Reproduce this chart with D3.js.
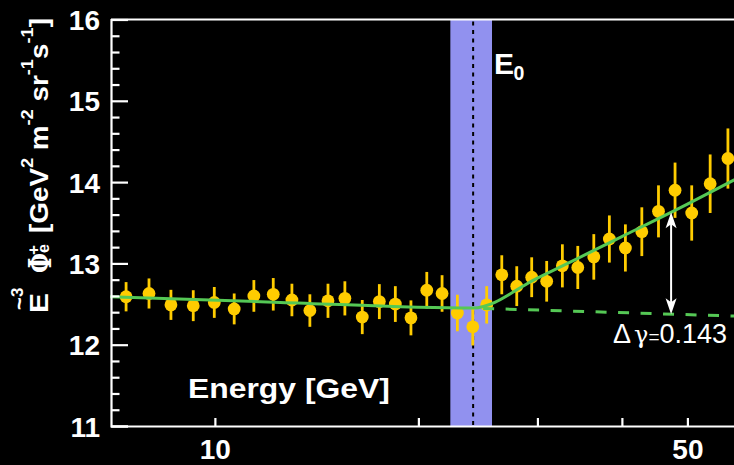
<!DOCTYPE html>
<html>
<head>
<meta charset="utf-8">
<script src="https://cdn.jsdelivr.net/npm/d3@7"></script>
<style>
  html, body { margin: 0; padding: 0; background: #000; }
  svg { display: block; }
</style>
</head>
<body>
<svg id="chart" width="734" height="465"></svg>
<script>
// Positron flux (E^3 weighted) per energy bin
const energy = [7.39, 7.99, 8.61, 9.29, 9.98, 10.68, 11.42, 12.20, 13.00, 13.82, 14.70, 15.57,
  16.52, 17.51, 18.49, 19.50, 20.58, 21.68, 22.84, 24.07, 25.24, 26.57, 27.96, 29.42,
  30.96, 32.66, 34.42, 36.35, 38.33, 40.48, 42.81, 45.31, 47.94, 50.74, 54.03, 57.40];
const flux = [12.59, 12.63, 12.49, 12.48, 12.52, 12.44, 12.60, 12.62, 12.55, 12.42, 12.54, 12.57,
  12.34, 12.53, 12.50, 12.33, 12.67, 12.63, 12.39, 12.22, 12.49, 12.86, 12.72, 12.83,
  12.78, 12.97, 12.95, 13.08, 13.30, 13.19, 13.39, 13.64, 13.90, 13.62, 13.98, 14.29];
const fluxErr = [0.18, 0.185, 0.185, 0.19, 0.19, 0.19, 0.195, 0.20, 0.20, 0.20, 0.21, 0.21,
  0.21, 0.215, 0.22, 0.215, 0.225, 0.225, 0.225, 0.23, 0.23, 0.24, 0.245, 0.245,
  0.25, 0.265, 0.265, 0.28, 0.29, 0.29, 0.30, 0.32, 0.34, 0.34, 0.36, 0.37];

// Broken power-law fit and its extrapolation without the break
const fitSolidE = [7.0, 12.5, 24.1, 30, 40, 50, 60];
const fitSolidY = [12.59, 12.52, 12.45, 12.82, 13.33, 13.73, 14.07];
const fitDashedE = [24.1, 60];
const fitDashedY = [12.45, 12.35];

// Break energy and its uncertainty band
const breakE = 24.1;
const breakBand = [22.3, 25.7];

// Spectral index change annotation
const deltaGammaE = 47.3;
const deltaGammaRange = [12.376, 13.63];
const deltaGammaLabel = "0.143";

const yMajorTicks = [11, 12, 13, 14, 15, 16];
const yMinorTicks = d3.range(11, 16.001, 0.2).map(v => +v.toFixed(1)).filter(v => !yMajorTicks.includes(v));
const xTicks = [10, 20, 30, 40, 50];
const xTickLabels = ["10", "", "", "", "50"];

const W = 734, H = 465;
const plotLeft = 111, plotRight = 734, plotTop = 19.5, plotBottom = 426;

const svg = d3.select("#chart");
svg.append("rect").attr("width", W).attr("height", H).attr("fill", "#000");

const x = d3.scaleLog().domain([7.02, 58.6]).range([plotLeft, plotRight]);
const y = d3.scaleLinear().domain([11, 16]).range([plotBottom, plotTop]);

const SANS = "'Liberation Sans', Arial, Helvetica, sans-serif";
const SERIF = "'DejaVu Serif', 'Liberation Serif', serif";

// Break band
svg.append("rect")
  .attr("x", x(breakBand[0])).attr("y", plotTop)
  .attr("width", x(breakBand[1]) - x(breakBand[0]))
  .attr("height", plotBottom - plotTop)
  .attr("fill", "#9191ef");

// Break position
svg.append("line")
  .attr("x1", x(breakE)).attr("x2", x(breakE))
  .attr("y1", plotTop + 2).attr("y2", plotBottom)
  .attr("stroke", "#000").attr("stroke-width", 2)
  .attr("stroke-dasharray", "4,4.5");

// Data points with error bars
const pts = d3.range(energy.length).map(i => ({ e: energy[i], f: flux[i], s: fluxErr[i] }));
const gPts = svg.append("g");
gPts.selectAll("line.err").data(pts).join("line")
  .attr("class", "err")
  .attr("x1", d => x(d.e)).attr("x2", d => x(d.e))
  .attr("y1", d => y(d.f + d.s)).attr("y2", d => y(d.f - d.s))
  .attr("stroke", "#ffcc00").attr("stroke-width", 2.8);
gPts.selectAll("circle").data(pts).join("circle")
  .attr("cx", d => x(d.e)).attr("cy", d => y(d.f))
  .attr("r", 6.4).attr("fill", "#ffcc00");

// Fit curves
const green = "#55c855";
const line = d3.line().x(d => x(d[0])).y(d => y(d[1])).curve(d3.curveMonotoneX);
svg.append("path")
  .datum(fitDashedE.map((e, i) => [e, fitDashedY[i]]))
  .attr("d", line)
  .attr("fill", "none").attr("stroke", green).attr("stroke-width", 3)
  .attr("stroke-dasharray", "11,11.5").attr("stroke-dashoffset", 12.5);
svg.append("path")
  .datum(fitSolidE.map((e, i) => [e, fitSolidY[i]]))
  .attr("d", line)
  .attr("fill", "none").attr("stroke", green).attr("stroke-width", 3);

// Double-headed arrow between the two curves
const ax = x(deltaGammaE);
const aTop = y(deltaGammaRange[1]), aBot = y(deltaGammaRange[0]);
const gArrow = svg.append("g").attr("fill", "#fff").attr("stroke", "none");
gArrow.append("line")
  .attr("x1", ax).attr("x2", ax).attr("y1", aTop + 8).attr("y2", aBot - 8)
  .attr("stroke", "#fff").attr("stroke-width", 2);
const headLen = 16, headHalf = 5.5, notch = 4;
gArrow.append("path").attr("d",
  `M${ax},${aTop} L${ax - headHalf},${aTop + headLen} L${ax},${aTop + headLen - notch} L${ax + headHalf},${aTop + headLen} Z`);
gArrow.append("path").attr("d",
  `M${ax},${aBot} L${ax - headHalf},${aBot - headLen} L${ax},${aBot - headLen + notch} L${ax + headHalf},${aBot - headLen} Z`);

// Δγ label
const dg = svg.append("text")
  .attr("x", 613).attr("y", 343)
  .attr("fill", "#fff").attr("font-family", SANS).attr("font-size", 27);
dg.append("tspan").text("Δ");
dg.append("tspan").attr("dx", 3).attr("font-family", SERIF).attr("font-size", 24).text("γ");
dg.append("tspan").attr("font-size", 19).text("=");
dg.append("tspan").text(deltaGammaLabel);

// E0 label
const e0 = svg.append("text").attr("fill", "#fff").attr("font-family", SANS).attr("font-weight", "bold");
e0.append("tspan").attr("x", 494).attr("y", 73.5).attr("font-size", 30).text("E");
e0.append("tspan").attr("x", 513.5).attr("y", 79.5).attr("font-size", 19.5).text("0");

// Axes
const axisColor = "#fff";
svg.append("line")
  .attr("x1", plotLeft).attr("x2", plotRight).attr("y1", plotTop).attr("y2", plotTop)
  .attr("stroke", axisColor).attr("stroke-width", 2.2);

const gy = svg.append("g").attr("transform", `translate(${plotLeft},0)`)
  .call(d3.axisLeft(y).tickValues(yMajorTicks).tickSize(-17).tickPadding(11).tickFormat(d3.format("d")));
svg.append("g").attr("transform", `translate(${plotLeft},0)`)
  .call(d3.axisLeft(y).tickValues(yMinorTicks).tickSize(-8.5).tickFormat(""))
  .call(g => g.select(".domain").remove());

const gx = svg.append("g").attr("transform", `translate(0,${plotBottom})`)
  .call(d3.axisBottom(x).tickValues(xTicks).tickSizeInner(-8).tickSizeOuter(0).tickPadding(13)
    .tickFormat((d, i) => xTickLabels[i]));

svg.selectAll(".domain, .tick line").attr("stroke", axisColor).attr("stroke-width", 2.2);
svg.selectAll(".tick text")
  .attr("fill", "#fff").attr("font-family", SANS).attr("font-weight", "bold").attr("font-size", 28);
gy.selectAll(".tick text").attr("dy", "0.36em");
gx.selectAll(".tick text").attr("dy", "0.72em");

// Energy axis title (inside the frame)
const eTitle = svg.append("text")
  .attr("fill", "#fff").attr("font-family", SANS).attr("font-weight", "bold").attr("font-size", 28)
  .text("Energy [GeV]");
const eLen = eTitle.node().getComputedTextLength();
eTitle.attr("transform", `translate(188,398) scale(${202 / eLen},1)`);

// Vertical axis title
const gyl = svg.append("g").attr("transform", "translate(48,313) rotate(-90)")
  .attr("fill", "#fff");
gyl.append("text").attr("x", 0).attr("y", 0)
  .attr("font-family", SANS).attr("font-weight", "bold").attr("font-size", 25)
  .attr("textLength", 20).attr("lengthAdjust", "spacingAndGlyphs").text("E");
gyl.append("text").attr("x", 3).attr("y", -21)
  .attr("font-family", SANS).attr("font-weight", "bold").attr("font-size", 22).text("~");
gyl.append("text").attr("x", 16).attr("y", -25)
  .attr("font-family", SANS).attr("font-weight", "bold").attr("font-size", 17).text("3");
gyl.append("text").attr("x", 40).attr("y", 3)
  .attr("font-family", SERIF).attr("font-weight", "bold").attr("font-size", 32)
  .attr("textLength", 20).attr("lengthAdjust", "spacingAndGlyphs").text("Φ");
gyl.append("text").attr("x", 60).attr("y", 1)
  .attr("font-family", SANS).attr("font-weight", "bold").attr("font-size", 16).text("e");
gyl.append("text").attr("x", 58).attr("y", -9)
  .attr("font-family", SANS).attr("font-weight", "bold").attr("font-size", 17).text("+");

const unit = gyl.append("g");
const ut = unit.append("text")
  .attr("font-family", SANS).attr("font-weight", "bold").attr("font-size", 26);
const supShift = 15;
[["[GeV", false], ["2", true], [" m", false], ["-2", true], [" sr", false], ["-1", true],
 ["s", false], ["-1", true], ["]", false]].forEach(([t, sup], i, arr) => {
  const prevSup = i > 0 && arr[i - 1][1];
  const ts = ut.append("tspan").text(t);
  if (sup) ts.attr("font-size", 17).attr("dy", -supShift);
  else if (prevSup) ts.attr("dy", supShift);
});
const uLen = ut.node().getComputedTextLength();
unit.attr("transform", `translate(80,0) scale(${215 / uLen},1)`);
</script>
</body>
</html>
